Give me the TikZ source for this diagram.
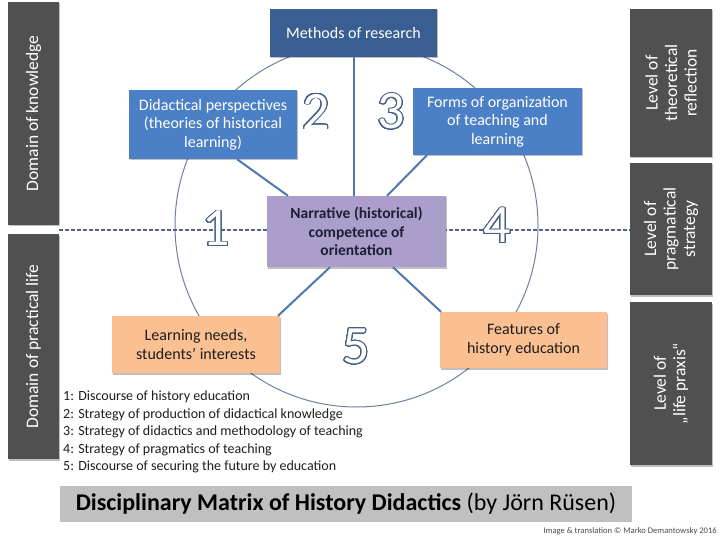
\documentclass[tikz,border=0pt]{standalone}
\usepackage{fontspec}
\setmainfont{Carlito}
\usepackage[copies]{contour}
\contourlength{0.9pt}
\contournumber{32}
\usetikzlibrary{shadows}
\definecolor{methodsblue}{RGB}{56,94,146}
\definecolor{lightblue}{RGB}{76,128,198}
\definecolor{lav}{RGB}{172,158,203}
\definecolor{orng}{RGB}{250,192,145}
\definecolor{darkgr}{RGB}{80,80,80}
\definecolor{titlegr}{RGB}{192,192,192}
\definecolor{connblue}{RGB}{79,120,176}
\definecolor{circlecol}{RGB}{110,128,160}
\definecolor{dashcol}{RGB}{75,100,140}
\definecolor{digitcol}{RGB}{70,95,135}
\definecolor{txtdark}{RGB}{30,30,30}
\tikzset{
  shad/.style={drop shadow={shadow xshift=1.2pt, shadow yshift=-1.5pt, fill=black, opacity=0.25}},
  box/.style={rectangle, inner sep=2pt, align=center, font=\fontsize{16}{18.5}\selectfont, shad},
  bluebox/.style={box, fill=lightblue, text=white},
  orangebox/.style={box, fill=orng, text=txtdark},
  sidebox/.style={rectangle, fill=darkgr, text=white, rotate=90, align=center, inner sep=2pt,
     font=\fontsize{17.5}{19.5}\selectfont, shad},
  digit/.style={font=\fontsize{54}{54}\selectfont, text=white, inner sep=0pt},
  conn/.style={draw=connblue, line width=2pt},
}
\begin{document}
\begin{tikzpicture}[x=1pt,y=-1pt]
\useasboundingbox[fill=white] (0,0) rectangle (720,540);

% circle
\draw[circlecol, line width=1pt] (356.5,225.5) circle[radius=181.5pt];

% dashed line
\coordinate (dl) at (59,230);
\coordinate (dr) at (630,230);
\draw[dashcol, line width=1.6pt, dash pattern=on 4pt off 2pt] (dl) -- (dr);

% side boxes
\node[sidebox, minimum width=223pt, minimum height=51pt] (kn) at (33.5,113.5) {Domain of knowledge};
\node[sidebox, minimum width=225pt, minimum height=51pt] (pl) at (33.5,346.5) {Domain of practical life};
\node[sidebox, minimum width=148pt, minimum height=82pt] (r1) at (671,83) {Level of\\theoretical\\reflection};
\node[sidebox, minimum width=132pt, minimum height=82pt] (r2) at (671,229) {Level of\\pragmatical\\strategy};
\node[sidebox, minimum width=163pt, minimum height=82pt] (r3) at (671,383.5) {Level of\\„life praxis“};

% main boxes
\node[box, fill=methodsblue, text=white, minimum width=167pt, minimum height=48pt] (meth) at (353.5,33) {Methods of research};
\node[bluebox, minimum width=168pt, minimum height=69pt] (didact) at (213,124.5) {Didactical perspectives\\(theories of historical\\learning)};
\node[bluebox, minimum width=169pt, minimum height=67pt] (forms) at (497.5,121.5) {Forms of organization\\of teaching and\\learning};
\node[box, fill=lav, text={rgb,255:red,30;green,30;blue,55}, font=\bfseries\fontsize{15.5}{18.3}\selectfont,
      minimum width=179pt, minimum height=71pt] (narr) at (356.5,231.5) {Narrative (historical)\\competence of\\orientation};
\node[orangebox, minimum width=168pt, minimum height=57pt] (learn) at (196,344.5) {Learning needs,\\students’ interests};
\node[orangebox, minimum width=167pt, minimum height=56pt] (feat) at (523.5,340) {Features of\\history education};

% connectors
\draw[conn] (meth.south) -- (meth.south |- narr.north);
\draw[conn] ([xshift=24pt]didact.south) -- ([xshift=-68.5pt]narr.north);
\draw[conn] ([xshift=-70.5pt]forms.south) -- ([xshift=30.5pt]narr.north);
\draw[conn] ([xshift=-26.5pt]narr.south) -- ([xshift=82pt]learn.north);
\draw[conn] ([xshift=36.5pt]narr.south) -- ([xshift=-82.5pt]feat.north);

% digits
\node[digit] (d1) at (216,229) {\contour{digitcol}{1}};
\node[digit] (d2) at (316,112) {\contour{digitcol}{2}};
\node[digit] (d3) at (391,112) {\contour{digitcol}{3}};
\node[digit] (d4) at (497,226) {\contour{digitcol}{4}};
\node[digit] (d5) at (356,347) {\contour{digitcol}{5}};

% legend
\node[anchor=north west, align=left, inner sep=0pt, text=txtdark,
      font=\fontsize{14}{17.5}\selectfont] (legend) at (63,391)
 {1: Discourse of history education\\
  2: Strategy of production of didactical knowledge\\
  3: Strategy of didactics and methodology of teaching\\
  4: Strategy of pragmatics of teaching\\
  5: Discourse of securing the future by education};

% title
\node[fill=titlegr, minimum width=572pt, minimum height=36pt, inner sep=0pt, text=black,
      font=\fontsize{24}{28}\selectfont] (title) at (346,504)
 {\textbf{Disciplinary Matrix of History Didactics} (by Jörn Rüsen)};

% copyright
\node[anchor=east, inner sep=0pt, text=black!70, font=\fontsize{8.6}{10}\selectfont] (copy) at (717,531)
 {Image \& translation © Marko Demantowsky 2016};
\end{tikzpicture}
\end{document}
